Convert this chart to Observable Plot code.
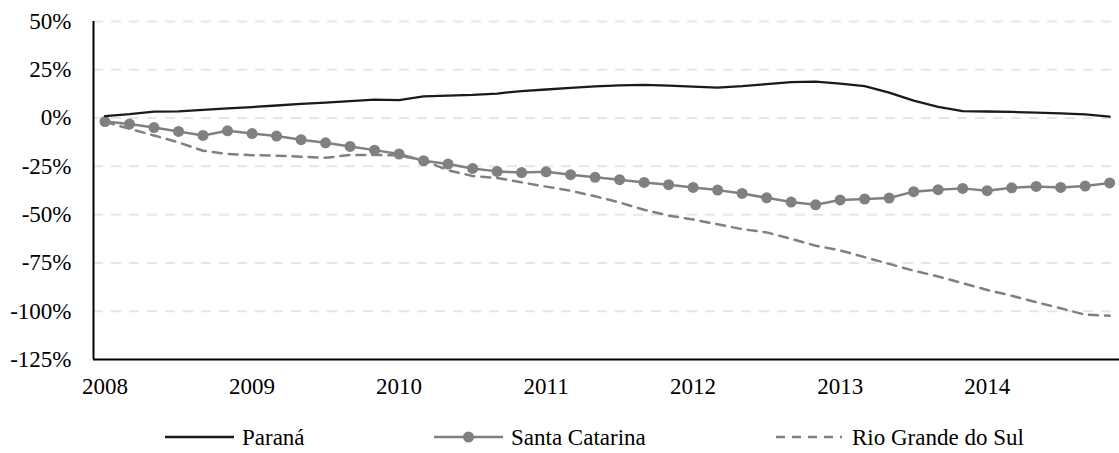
<!DOCTYPE html>
<html><head><meta charset="utf-8">
<script src="https://cdn.jsdelivr.net/npm/d3@7"></script>
<script src="https://cdn.jsdelivr.net/npm/@observablehq/plot@0.6"></script>
<style>
body{margin:0;background:#fff;font-family:"Liberation Serif",serif;}
#chart{position:relative;width:1119px;height:453px;overflow:hidden;}
#legend{position:absolute;top:410px;left:0;}
</style></head><body><div id="chart"></div>
<script>
const startYear = 2008;
const periodsPerYear = 6;
const yearTicks = [2008, 2009, 2010, 2011, 2012, 2013, 2014];
const yTicks = [-1.25, -1.0, -0.75, -0.5, -0.25, 0, 0.25, 0.5];
const seriesNames = ["Paraná", "Santa Catarina", "Rio Grande do Sul"];

// values in percent, bimonthly from 2008
const parana = [1.0, 2.0, 3.3, 3.5, 4.2, 5.0, 5.7, 6.5, 7.3, 8.0, 8.8, 9.6, 9.3, 11.2, 11.6,
  12.0, 12.7, 14.0, 14.8, 15.6, 16.4, 16.9, 17.2, 16.8, 16.3, 15.8, 16.5, 17.6, 18.6, 18.9,
  17.8, 16.5, 13.2, 9.0, 5.8, 3.6, 3.4, 3.2, 2.8, 2.4, 1.9, 0.8];
const santaCatarina = [-1.8, -3.1, -4.9, -6.9, -9.0, -6.6, -8.0, -9.3, -11.2, -12.8, -14.7, -16.6,
  -18.6, -22.1, -23.8, -26.1, -27.6, -28.2, -27.8, -29.3, -30.7, -31.9, -33.3, -34.5, -35.9,
  -37.3, -39.0, -41.3, -43.5, -44.9, -42.4, -41.9, -41.4, -38.1, -37.1, -36.4, -37.6, -36.1,
  -35.4, -35.9, -35.2, -33.6];
const rioGrandeDoSul = [-2.0, -5.5, -9.0, -12.6, -16.9, -18.6, -19.2, -19.5, -20.0, -20.6, -19.1,
  -19.1, -19.3, -22.0, -27.0, -30.0, -31.0, -33.3, -35.5, -37.6, -40.5, -43.7, -47.5, -50.5,
  -52.5, -55.0, -57.5, -59.2, -62.5, -66.1, -68.5, -72.0, -75.5, -79.0, -82.0, -85.5, -89.0,
  -92.0, -95.3, -98.5, -101.8, -102.3];

const toRows = (vals, name) => vals.map((v, i) => ({x: startYear + i / periodsPerYear, y: v / 100, series: name}));
const rowsPR = toRows(parana, seriesNames[0]);
const rowsSC = toRows(santaCatarina, seriesNames[1]);
const rowsRS = toRows(rioGrandeDoSul, seriesNames[2]);

const xMin = startYear - 0.47 / periodsPerYear;
const xMax = startYear + 41.4 / periodsPerYear;
const font = "Liberation Serif";
const fontSize = 23;

const plot = Plot.plot({
  width: 1119, height: 410,
  marginLeft: 93, marginRight: 0, marginTop: 21, marginBottom: 51,
  style: {fontFamily: font, fontSize: fontSize + "px", color: "#000", background: "#fff"},
  x: {domain: [xMin, xMax]},
  y: {domain: [-1.25, 0.5]},
  marks: [
    Plot.ruleY(yTicks.filter(d => d > -1.25), {stroke: "#e6e6e6", strokeWidth: 2, strokeDasharray: "10,8"}),
    Plot.lineY(rowsRS, {x: "x", y: "y", stroke: "#808080", strokeWidth: 2.5, strokeDasharray: "9,7"}),
    Plot.lineY(rowsSC, {x: "x", y: "y", stroke: "#808080", strokeWidth: 2.5}),
    Plot.dot(rowsSC, {x: "x", y: "y", r: 5.5, fill: "#808080", stroke: "none"}),
    Plot.lineY(rowsPR, {x: "x", y: "y", stroke: "#1a1a1a", strokeWidth: 2.3}),
    Plot.ruleY([-1.25], {stroke: "#000", strokeWidth: 2}),
    Plot.ruleX([xMin], {y1: -1.25, y2: 0.5, stroke: "#000", strokeWidth: 2}),
    Plot.axisX({ticks: yearTicks, tickSize: 0, tickPadding: 18, tickFormat: d => String(d), label: null}),
    Plot.axisY({ticks: yTicks, tickSize: 0, tickPadding: 22, tickFormat: d => `${Math.round(d * 100)}%`, label: null})
  ]
});
const chart = document.getElementById("chart");
chart.appendChild(plot);
d3.select(plot).selectAll("text").attr("font-family", font).style("font-family", font);

// legend below the plot
const leg = d3.select(chart).append("svg").attr("id", "legend").attr("width", 1119).attr("height", 43)
  .attr("font-family", font).attr("font-size", fontSize);
const ly = 27;
const items = [
  {name: seriesNames[0], x0: 165, x1: 234, tx: 242, stroke: "#1a1a1a", dash: null, dot: false},
  {name: seriesNames[1], x0: 434, x1: 503, tx: 511, stroke: "#808080", dash: null, dot: true},
  {name: seriesNames[2], x0: 776, x1: 842, tx: 852, stroke: "#808080", dash: "9,7", dot: false}
];
for (const it of items) {
  const l = leg.append("line").attr("x1", it.x0).attr("x2", it.x1).attr("y1", ly).attr("y2", ly)
    .attr("stroke", it.stroke).attr("stroke-width", 2.5);
  if (it.dash) l.attr("stroke-dasharray", it.dash);
  if (it.dot) leg.append("circle").attr("cx", (it.x0 + it.x1) / 2).attr("cy", ly).attr("r", 5.5).attr("fill", it.stroke);
  leg.append("text").attr("x", it.tx).attr("y", ly).attr("dy", "0.35em").attr("fill", "#000")
    .attr("font-family", font).style("font-family", font).text(it.name);
}
</script></body></html>
